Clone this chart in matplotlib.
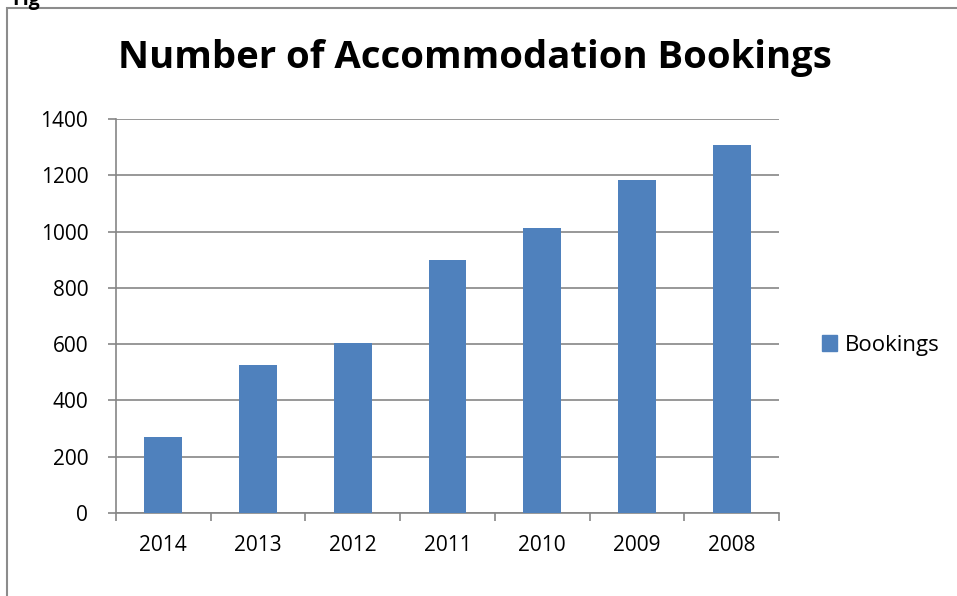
import matplotlib
matplotlib.use("Agg")
import matplotlib.pyplot as plt
from matplotlib.patches import Rectangle, Patch

years = ["2014", "2013", "2012", "2011", "2010", "2009", "2008"]
bookings = [270, 526, 604, 899, 1013, 1183, 1307]
yticks = [0, 200, 400, 600, 800, 1000, 1200, 1400]

plt.rcParams['font.family'] = ['Open Sans', 'DejaVu Sans']
W, H = 957, 596
fig = plt.figure(figsize=(W / 100, H / 100), dpi=100)

# outer chart frame
fig.patches.append(Rectangle((7 / W, -0.1), 1.2, (596 - 8) / H + 0.1,
                             transform=fig.transFigure, fill=False,
                             edgecolor='#8c8c8c', linewidth=1.5))
fig.text(12 / W, 1.0, "Fig", fontsize=14, fontweight='bold', va='center', ha='left')

ax = fig.add_axes([116 / W, (596 - 513) / H, (779 - 116) / W, (513 - 119) / H])
x = list(range(len(years)))
ax.bar(x, bookings, width=0.4, color='#4f81bd', zorder=3, label='Bookings')
ax.set_xlim(-0.5, len(years) - 0.5)
ax.set_ylim(0, 1400)
ax.set_yticks(yticks)
ax.set_yticklabels([str(v) for v in yticks], fontsize=15)
ax.yaxis.grid(True, color='#868686', linewidth=1.2, zorder=0)
ax.set_xticks(x)
ax.set_xticklabels(years, fontsize=15)
ax.tick_params(axis='x', length=0, pad=16)
ax.set_xticks([i - 0.5 for i in range(len(years) + 1)], minor=True)
ax.tick_params(axis='x', which='minor', length=6, color='#868686', width=1.2, direction='out')
ax.tick_params(axis='y', length=6, color='#868686', width=1.2, direction='out', pad=14)
for s in ['top', 'right']:
    ax.spines[s].set_visible(False)
for s in ['left', 'bottom']:
    ax.spines[s].set_color('#868686')
    ax.spines[s].set_linewidth(1.2)

fig.text(475 / W, 1 - 58 / H, "Number of Accommodation Bookings",
         fontsize=27.5, fontweight='bold', ha='center', va='center')

fig.legend(handles=[Patch(color='#4f81bd', label='Bookings')],
           loc='center left', bbox_to_anchor=(815 / W, 1 - 345 / H),
           frameon=False, fontsize=16, handlelength=0.7, handleheight=0.7,
           handletextpad=0.35, borderaxespad=0, borderpad=0.3)

fig.savefig("out.png", dpi=100)
